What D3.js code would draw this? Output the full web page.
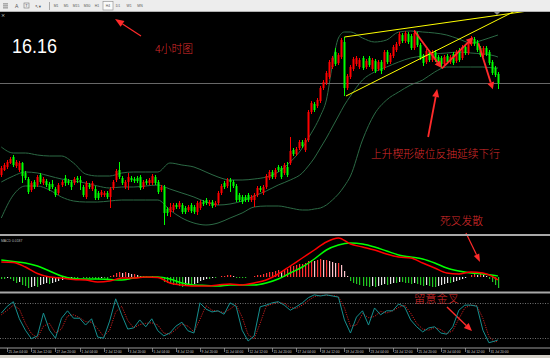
<!DOCTYPE html>
<html><head><meta charset="utf-8">
<script src="https://cdn.jsdelivr.net/npm/d3@7"></script>
<style>html,body{margin:0;padding:0;background:#000;overflow:hidden}svg{display:block}</style>
</head><body><svg id="c" width="550" height="358"></svg>
<script>
// ---------- DATA (XAGUSD H4) ----------
const openP=[15.24,15.29,15.32,15.36,15.42,15.33,15.29,15.36,15.26,15.20,
15.09,15.17,15.14,15.24,15.16,15.18,15.15,15.15,15.10,15.06,
15.14,15.21,15.18,15.17,15.16,15.21,15.19,15.12,15.02,15.14,
15.10,15.10,15.06,15.04,15.04,15.06,15.02,15.11,15.19,15.29,
15.21,15.12,15.17,15.21,15.20,15.21,15.22,15.12,15.18,15.16,
15.16,15.22,15.17,15.09,15.12,14.90,14.87,14.89,14.94,14.92,
14.94,14.91,14.89,14.94,14.92,14.87,14.91,14.97,14.99,14.95,
14.97,14.94,14.96,15.06,15.16,15.13,15.19,15.17,15.13,15.04,
15.02,15.02,15.04,14.99,14.99,15.04,15.11,15.06,15.12,15.21,
15.27,15.22,15.32,15.31,15.26,15.32,15.36,15.49,15.45,15.51,
15.57,15.49,15.59,15.87,15.95,15.93,15.98,16.11,16.16,16.22,
16.32,16.47,16.36,16.42,16.57,16.11,16.22,16.30,16.35,16.32,
16.41,16.32,16.41,16.30,16.38,16.30,16.37,16.31,16.47,16.37,
16.43,16.49,16.55,16.64,16.58,16.65,16.63,16.51,16.65,16.54,
16.43,16.37,16.47,16.39,16.47,16.42,16.41,16.35,16.43,16.37,
16.45,16.38,16.49,16.41,16.52,16.46,16.55,16.60,16.57,16.51,
16.44,16.51,16.47,16.37,16.31,16.25];
const highP=[15.33,15.36,15.39,15.42,15.44,15.39,15.38,15.37,15.28,15.22,
15.18,15.19,15.24,15.26,15.22,15.20,15.17,15.19,15.12,15.16,
15.19,15.24,15.20,15.19,15.22,15.23,15.23,15.14,15.18,15.16,
15.18,15.13,15.08,15.09,15.08,15.08,15.12,15.19,15.30,15.37,
15.23,15.19,15.26,15.23,15.22,15.23,15.24,15.19,15.20,15.21,
15.25,15.24,15.19,15.14,15.14,14.92,14.96,14.96,14.96,14.98,
14.96,14.93,14.94,14.96,14.94,14.98,14.99,14.99,15.01,14.99,
14.99,14.98,15.08,15.15,15.18,15.21,15.21,15.19,15.15,15.06,
15.04,15.04,15.06,15.04,15.06,15.13,15.13,15.14,15.25,15.29,
15.29,15.31,15.34,15.33,15.36,15.37,15.62,15.51,15.52,15.59,
15.59,15.61,15.89,15.98,15.97,16.01,16.13,16.19,16.28,16.39,
16.43,16.51,16.46,16.61,16.62,16.25,16.34,16.42,16.43,16.41,
16.43,16.40,16.43,16.41,16.40,16.39,16.39,16.49,16.49,16.46,
16.54,16.57,16.67,16.66,16.68,16.67,16.65,16.69,16.67,16.56,
16.45,16.50,16.49,16.49,16.49,16.44,16.43,16.44,16.45,16.44,
16.47,16.49,16.51,16.54,16.54,16.58,16.63,16.62,16.59,16.53,
16.53,16.53,16.49,16.39,16.33,16.27];
const lowP=[15.22,15.28,15.30,15.35,15.32,15.31,15.27,15.16,15.19,15.05,
15.07,15.10,15.12,15.15,15.14,15.12,15.08,15.10,15.02,15.04,
15.12,15.13,15.14,15.09,15.14,15.16,15.09,15.02,15.00,15.10,
15.08,14.99,14.99,15.02,15.02,15.00,14.91,15.09,15.17,15.20,
15.14,15.10,15.09,15.17,15.16,15.16,15.09,15.10,15.14,15.14,
15.14,15.14,15.05,15.07,14.74,14.83,14.82,14.87,14.90,14.90,
14.85,14.85,14.87,14.86,14.85,14.84,14.89,14.93,14.94,14.93,
14.91,14.92,14.94,15.04,15.10,15.11,15.07,15.11,14.97,14.97,
14.95,14.97,14.97,14.97,14.92,15.02,15.07,15.04,15.10,15.19,
15.20,15.20,15.27,15.20,15.24,15.22,15.34,15.43,15.43,15.49,
15.51,15.47,15.57,15.85,15.87,15.91,15.96,16.09,16.14,16.20,
16.30,16.33,16.34,16.40,16.03,16.09,16.20,16.28,16.33,16.30,
16.29,16.30,16.32,16.28,16.26,16.28,16.25,16.29,16.35,16.35,
16.41,16.47,16.53,16.56,16.56,16.55,16.49,16.49,16.52,16.39,
16.33,16.35,16.37,16.37,16.37,16.35,16.31,16.33,16.35,16.35,
16.34,16.36,16.37,16.39,16.44,16.44,16.53,16.53,16.47,16.42,
16.42,16.43,16.34,16.24,16.22,16.10];
const closeP=[15.31,15.34,15.37,15.40,15.34,15.37,15.36,15.23,15.21,15.07,
15.16,15.12,15.22,15.17,15.20,15.14,15.10,15.12,15.04,15.14,
15.17,15.16,15.16,15.12,15.20,15.19,15.17,15.04,15.16,15.12,
15.16,15.01,15.01,15.07,15.06,15.02,15.10,15.17,15.28,15.22,
15.16,15.17,15.22,15.19,15.18,15.18,15.11,15.17,15.16,15.19,
15.23,15.16,15.07,15.12,14.86,14.86,14.92,14.94,14.92,14.96,
14.87,14.87,14.92,14.88,14.87,14.96,14.97,14.95,14.96,14.97,
14.93,14.96,15.06,15.13,15.12,15.19,15.17,15.13,14.99,14.99,
14.97,14.99,14.99,15.02,15.04,15.11,15.09,15.12,15.23,15.27,
15.22,15.29,15.29,15.22,15.34,15.24,15.48,15.45,15.50,15.57,
15.53,15.59,15.87,15.96,15.89,15.99,16.11,16.17,16.26,16.37,
16.41,16.35,16.44,16.59,16.11,16.23,16.32,16.40,16.41,16.39,
16.31,16.38,16.34,16.39,16.28,16.37,16.28,16.47,16.37,16.44,
16.52,16.55,16.65,16.58,16.66,16.57,16.51,16.66,16.54,16.41,
16.36,16.48,16.39,16.47,16.39,16.37,16.35,16.42,16.37,16.42,
16.36,16.47,16.39,16.52,16.46,16.56,16.61,16.55,16.49,16.44,
16.51,16.45,16.36,16.26,16.24,16.16];

// Bollinger bands (sampled at bar indices)
const bbIdx=[0,4,8,12,16,20,24,28,32,36,40,44,48,52,56,60,64,68,72,76,80,84,88,92,96,100,102,104,106,108,110,112,114,116,120,124,128,132,136,140,144,148,152,156,160,164,165];
const bbUpper=[15.52,15.46,15.46,15.44,15.43,15.43,15.36,15.25,15.23,15.23,15.26,15.27,15.27,15.27,15.36,15.34,15.32,15.27,15.22,15.19,15.19,15.20,15.22,15.27,15.37,15.51,15.61,15.71,15.83,15.99,16.34,16.61,16.67,16.67,16.61,16.57,16.59,16.67,16.68,16.67,16.66,16.64,16.60,16.56,16.59,16.63,16.64];
const bbMiddle=[15.17,15.23,15.27,15.26,15.23,15.20,15.18,15.16,15.13,15.11,15.12,15.12,15.13,15.14,15.10,15.06,15.02,14.97,14.94,14.95,14.98,15.03,15.08,15.14,15.19,15.26,15.33,15.41,15.51,15.61,15.72,15.83,15.94,16.03,16.19,16.27,16.32,16.37,16.41,16.43,16.45,16.46,16.47,16.46,16.45,16.43,16.42];
const bbLower=[14.81,15.04,15.13,15.13,15.09,15.02,14.98,14.97,14.97,14.98,14.99,14.99,14.99,14.99,14.89,14.81,14.76,14.74,14.76,14.81,14.86,14.92,14.93,14.93,14.91,14.89,14.89,14.90,14.91,14.94,14.99,15.05,15.13,15.23,15.59,15.85,15.99,16.07,16.14,16.19,16.27,16.32,16.32,16.32,16.32,16.31,16.31];

// MACD
const macdIdx=[0,4,8,12,16,20,24,28,32,36,40,44,48,52,56,60,64,68,72,76,80,84,88,92,96,100,104,108,112,116,120,124,128,132,136,140,144,148,152,156,160,164,165];
const macdMain=[0.015,0.0145,0.010,0.0035,0,-0.001,-0.0025,-0.003,-0.005,-0.004,-0.001,-0.001,0,-0.0005,-0.006,-0.008,-0.009,-0.009,-0.008,-0.007,-0.008,-0.006,-0.003,0.003,0.011,0.019,0.027,0.035,0.039,0.033,0.030,0.027,0.023,0.020,0.019,0.014,0.009,0.004,0.003,0.005,0.004,-0.001,-0.003];
const macdSignal=[0.017,0.0155,0.014,0.011,0.006,0.001,-0.0015,-0.002,-0.002,-0.0025,-0.003,-0.001,0,0,-0.002,-0.006,-0.008,-0.0085,-0.009,-0.008,-0.008,-0.008,-0.006,-0.002,0.004,0.010,0.018,0.027,0.032,0.034,0.033,0.030,0.026,0.022,0.020,0.018,0.014,0.009,0.006,0.004,0.003,0.0015,0.001];
const macdHist=[-0.002,-0.002,-0.001,-0.002,-0.004,-0.006,-0.005,-0.008,-0.009,-0.011,
-0.010,-0.009,-0.010,-0.008,-0.007,-0.006,-0.007,-0.006,-0.005,-0.004,
-0.003,-0.002,-0.002,-0.001,-0.001,-0.001,0,-0.001,-0.001,-0.001,
-0.001,-0.002,-0.002,-0.001,-0.001,-0.002,0.001,0.002,0.004,0.005,
0.004,0.005,0.004,0.003,0.003,0.002,0.001,0.001,0.001,0,
0.001,0,-0.001,-0.002,-0.005,-0.006,-0.007,-0.008,-0.008,-0.009,
-0.010,-0.009,-0.008,-0.008,-0.007,-0.006,-0.004,-0.003,-0.002,-0.002,
-0.001,-0.001,0,0.001,0.001,0.002,0.002,0.001,-0.001,-0.001,
-0.001,-0.001,0,0,0.001,0.002,0.002,0.003,0.004,0.005,
0.005,0.006,0.007,0.006,0.008,0.008,0.011,0.011,0.012,0.013,
0.013,0.014,0.016,0.017,0.016,0.017,0.018,0.017,0.017,0.016,
0.015,0.014,0.014,0.012,0.006,0.001,-0.004,-0.006,-0.007,-0.008,
-0.009,-0.009,-0.010,-0.009,-0.010,-0.009,-0.008,-0.007,-0.008,-0.007,
-0.006,-0.006,-0.005,-0.005,-0.006,-0.006,-0.007,-0.006,-0.007,-0.008,
-0.009,-0.008,-0.009,-0.010,-0.010,-0.009,-0.008,-0.007,-0.006,-0.006,
-0.005,-0.004,-0.003,-0.002,-0.001,0,0.002,0.003,0.002,0.003,
0.002,0.001,-0.002,-0.005,-0.008,-0.011];

// Stochastic (sampled every 2 bars + last bar)
const stochMain=[63,75,83,53,33,18,23,63,33,19,54,67,54,54,42,53,21,19,49,88,60,35,37,51,39,53,32,23,28,40,47,32,28,81,70,65,67,61,81,75,33,14,23,74,77,81,83,77,68,74,81,90,95,93,95,93,91,51,28,56,67,42,72,60,67,67,79,74,51,39,30,37,39,28,26,39,68,77,77,75,33,11,14,16];
const stochSignal=[60,68,77,70,45,27,20,40,45,28,35,58,60,55,48,47,36,22,33,65,75,50,37,43,45,46,42,28,26,34,44,40,30,52,76,68,66,64,70,78,56,25,18,45,75,79,82,80,73,71,77,85,92,94,94,94,92,72,40,42,62,55,57,66,63,67,73,77,63,45,35,33,38,34,27,32,53,72,77,76,54,22,12,14];
const stochLevels=[80,20];

// Time axis
const timeLabels=["25 Jun 04:00","26 Jun 12:00","27 Jun 20:00","1 Jul 04:00","2 Jul 12:00","3 Jul 20:00","5 Jul 04:00","8 Jul 12:00","9 Jul 20:00","11 Jul 04:00","12 Jul 12:00","15 Jul 20:00","17 Jul 04:00","18 Jul 12:00","19 Jul 20:00","23 Jul 04:00","24 Jul 12:00","25 Jul 20:00","29 Jul 04:00","30 Jul 12:00","31 Jul 20:00"];
const timeLabelIdx=[2,10,18,26,34,42,50,58,66,74,82,90,98,106,114,122,130,138,146,154,162];

const lastPrice=16.16;
// trend lines (bar index, price)
const wedgeUpper=[[114,16.62],[182,16.91]];
const wedgeLower=[[114.5,16.03],[172,16.90]];
// drawn arrows in main chart (bar index, price)
const zigzag=[[[137.2,16.683],[146.3,16.31]],[[146.4,16.307],[156.8,16.617]],[[158.5,16.557],[163.3,16.097]]];
const upArrow=[[141.8,15.62],[144.8,16.10]];

// ---------- DRAW ----------
const svg=d3.select("#c");
const W=550,H=358;
svg.append("rect").attr("width",W).attr("height",H).attr("fill","#000");
const defs=svg.append("defs");
function clip(id,x,y,w,h){defs.append("clipPath").attr("id",id).append("rect").attr("x",x).attr("y",y).attr("width",w).attr("height",h);}
clip("cMain",0,12,W,222);
clip("cMacd",0,236,W,55.5);
clip("cSto",0,293.5,W,54);

const x=d3.scaleLinear().domain([0,165]).range([1.3,497.95]);
const y=d3.scaleLinear().domain([14.66,16.87]).range([233,12]);
const ym=d3.scaleLinear().domain([-0.015,0.041]).range([292,236]);
const ys=d3.scaleLinear().domain([0,100]).range([349,292]);

// toolbar
const tb=svg.append("g");
tb.append("rect").attr("x",0).attr("y",0).attr("width",W).attr("height",11.5).attr("fill","#ededed");
tb.append("line").attr("x1",0).attr("x2",W).attr("y1",11.5).attr("y2",11.5).attr("stroke","#b0b0b0");
[[3,3.5],[3,5.5],[3,7.5]].forEach(d=>tb.append("rect").attr("x",d[0]).attr("y",d[1]).attr("width",5).attr("height",0.8).attr("fill","#6a6a6a"));
tb.append("text").attr("x",15).attr("y",8).attr("font-size",5).attr("font-family","Liberation Sans").attr("fill","#555").text("A");
tb.append("rect").attr("x",24).attr("y",3).attr("width",5).attr("height",5).attr("fill","none").attr("stroke","#777").attr("stroke-width",0.6);
tb.append("text").attr("x",25.2).attr("y",7.3).attr("font-size",4).attr("font-family","Liberation Sans").attr("fill","#555").text("T");
tb.append("text").attr("x",35).attr("y",8).attr("font-size",4.5).attr("font-family","DejaVu Sans").attr("fill","#555").text("↖▾");
tb.append("line").attr("x1",49.5).attr("x2",49.5).attr("y1",2).attr("y2",10).attr("stroke","#aaa");
const tf=["M1","M5","M15","M30","H1","H4","D1","W1","MN"];
const tfx=[56,66,76,87,97,108,118,129,140];
tf.forEach((t,k)=>{
  if(t==="H4") tb.append("rect").attr("x",tfx[k]-5).attr("y",1.5).attr("width",10).attr("height",8.5).attr("fill","#fafafa").attr("stroke","#8a8a8a").attr("stroke-width",0.6);
  tb.append("text").attr("x",tfx[k]).attr("y",7.3).attr("text-anchor","middle").attr("font-size",3.4).attr("font-family","Liberation Sans").attr("fill","#555").text(t);
});

// main panel
const gm=svg.append("g").attr("clip-path","url(#cMain)");
const bbLine=d3.line().x(d=>x(d[0])).y(d=>y(d[1])).curve(d3.curveMonotoneX);
[bbUpper,bbMiddle,bbLower].forEach(arr=>{
  gm.append("path").datum(bbIdx.map((k,j)=>[k,arr[j]])).attr("d",bbLine).attr("fill","none").attr("stroke","#2c6a45").attr("stroke-width",1);
});
gm.append("line").attr("x1",0).attr("x2",W).attr("y1",Math.round(y(lastPrice))+0.5).attr("y2",Math.round(y(lastPrice))+0.5).attr("stroke","#686868").attr("stroke-width",1);
const bars=d3.range(openP.length);
const col=i=>closeP[i]>=openP[i]?"#ff0000":"#00ff00";
gm.selectAll("line.wk").data(bars).join("line").attr("class","wk")
  .attr("x1",i=>Math.round(x(i))+0.5).attr("x2",i=>Math.round(x(i))+0.5)
  .attr("y1",i=>y(highP[i])).attr("y2",i=>y(lowP[i])).attr("stroke",col).attr("stroke-width",1);
gm.selectAll("rect.bd").data(bars).join("rect").attr("class","bd")
  .attr("x",i=>Math.round(x(i))-0.5).attr("width",2)
  .attr("y",i=>y(Math.max(openP[i],closeP[i])))
  .attr("height",i=>Math.max(1,Math.abs(y(openP[i])-y(closeP[i]))))
  .attr("fill",col);
const tl=d3.line().x(d=>x(d[0])).y(d=>y(d[1]));
[wedgeUpper,wedgeLower].forEach(l=>gm.append("path").datum(l).attr("d",tl).attr("stroke","#ffff00").attr("stroke-width",1).attr("fill","none"));
svg.append("path").attr("d","M494,12L500,12L497,15Z").attr("fill","#8a8a8a");
svg.append("text").attr("x",1).attr("y",16.5).attr("font-size",5).attr("fill","#ddd").attr("font-family","DejaVu Sans").text("×");

// arrows
function arrow(g,x1,y1,x2,y2,w,hl,hw){
  const dx=x2-x1,dy=y2-y1,L=Math.hypot(dx,dy),ux=dx/L,uy=dy/L;
  const bx=x2-ux*hl,by=y2-uy*hl;
  g.append("line").attr("x1",x1).attr("y1",y1).attr("x2",bx).attr("y2",by).attr("stroke","#ff2a2a").attr("stroke-width",w);
  g.append("path").attr("d",`M${x2},${y2}L${bx-uy*hw},${by+ux*hw}L${bx+uy*hw},${by-ux*hw}Z`).attr("fill","#ff2a2a");
}
const ga=svg.append("g");
zigzag.forEach(s=>arrow(ga,x(s[0][0]),y(s[0][1]),x(s[1][0]),y(s[1][1]),1.8,7,3.5));
arrow(ga,x(upArrow[0][0]),y(upArrow[0][1]),x(upArrow[1][0]),y(upArrow[1][1]),1.8,8,3.5);
arrow(ga,141,36,115,19,1.2,9,3.5);
arrow(ga,466,233,480,262,1.2,8,3);
arrow(ga,447,307,472,331,1.4,8,3.5);

// texts
svg.append("text").attr("x",12).attr("y",53).attr("font-size",21).attr("font-family","Liberation Sans, Arial, sans-serif").attr("fill","#fff").attr("textLength",45).attr("lengthAdjust","spacingAndGlyphs").text("16.16");
const cjk="Noto Sans CJK SC";
function note(t,xx,yy,len){svg.append("text").attr("x",xx).attr("y",yy).attr("font-size",11).attr("font-weight",300).attr("font-family",cjk).attr("fill","#dc2b2b").attr("textLength",len).attr("lengthAdjust","spacingAndGlyphs").text(t);}
note("4小时图",155,53,38);
note("上升楔形破位反抽延续下行",371,157.5,129);
note("死叉发散",440,225,43);
note("留意金叉",414,303,45);

// separators
svg.append("rect").attr("x",0).attr("y",234).attr("width",W).attr("height",2).attr("fill","#a8a8a8");
svg.append("rect").attr("x",0).attr("y",291.5).attr("width",W).attr("height",2).attr("fill","#a8a8a8");

// MACD panel
const gM=svg.append("g").attr("clip-path","url(#cMacd)");
gM.selectAll("rect.h").data(bars).join("rect").attr("class","h")
  .attr("x",i=>Math.round(x(i))).attr("width",1.2)
  .attr("y",i=>Math.min(ym(0),ym(macdHist[i])))
  .attr("height",i=>Math.abs(ym(macdHist[i])-ym(0)))
  .attr("fill",i=>{const v=macdHist[i],p=i>0?macdHist[i-1]:v;
    if(v>=0) return v>=p?"#ff3030":"#ffc4cc";
    return v<=p?"#22c422":"#e6e6e6";});
const ml=d3.line().x(d=>x(d[0])).y(d=>ym(d[1])).curve(d3.curveMonotoneX);
gM.append("path").datum(macdIdx.map((k,j)=>[k,macdSignal[j]])).attr("d",ml).attr("fill","none").attr("stroke","#00ff00").attr("stroke-width",1.5);
gM.append("path").datum(macdIdx.map((k,j)=>[k,macdMain[j]])).attr("d",ml).attr("fill","none").attr("stroke","#ff0000").attr("stroke-width",1.5);
svg.append("text").attr("x",1).attr("y",242).attr("font-size",3.4).attr("font-family","Liberation Sans").attr("fill","#bbb").text("MACD 0.0187");

// Stochastic panel
const gS=svg.append("g").attr("clip-path","url(#cSto)");
stochLevels.forEach(l=>gS.append("line").attr("x1",0).attr("x2",W).attr("y1",Math.round(ys(l))+0.5).attr("y2",Math.round(ys(l))+0.5).attr("stroke","#8c8c8c").attr("stroke-width",0.8).attr("stroke-dasharray","1,1.5"));
const stIdx=d3.range(0,165,2).concat([165]);
const sl=d3.line().x(d=>x(d[0])).y(d=>ys(d[1]));
gS.append("path").datum(stIdx.map((k,j)=>[k,stochSignal[j]])).attr("d",sl).attr("fill","none").attr("stroke","#c81e1e").attr("stroke-width",1).attr("stroke-dasharray","1.2,1.2");
gS.append("path").datum(stIdx.map((k,j)=>[k,stochMain[j]])).attr("d",sl).attr("fill","none").attr("stroke","#168f8f").attr("stroke-width",1);

// time axis
svg.append("line").attr("x1",0).attr("x2",W).attr("y1",348).attr("y2",348).attr("stroke","#9a9a9a").attr("stroke-width",1);
const gt=svg.append("g");
timeLabelIdx.forEach((k,j)=>{
  const xx=Math.round(x(k))+0.5;
  gt.append("line").attr("x1",xx).attr("x2",xx).attr("y1",348).attr("y2",352).attr("stroke","#bbb").attr("stroke-width",0.6);
  gt.append("text").attr("x",xx+1).attr("y",352.8).attr("font-size",3.3).attr("font-family","Liberation Sans").attr("fill","#c8c8c8").text(timeLabels[j]);
});
svg.append("rect").attr("x",0).attr("y",355).attr("width",W).attr("height",3).attr("fill","#d4d0c8");
</script></body></html>
